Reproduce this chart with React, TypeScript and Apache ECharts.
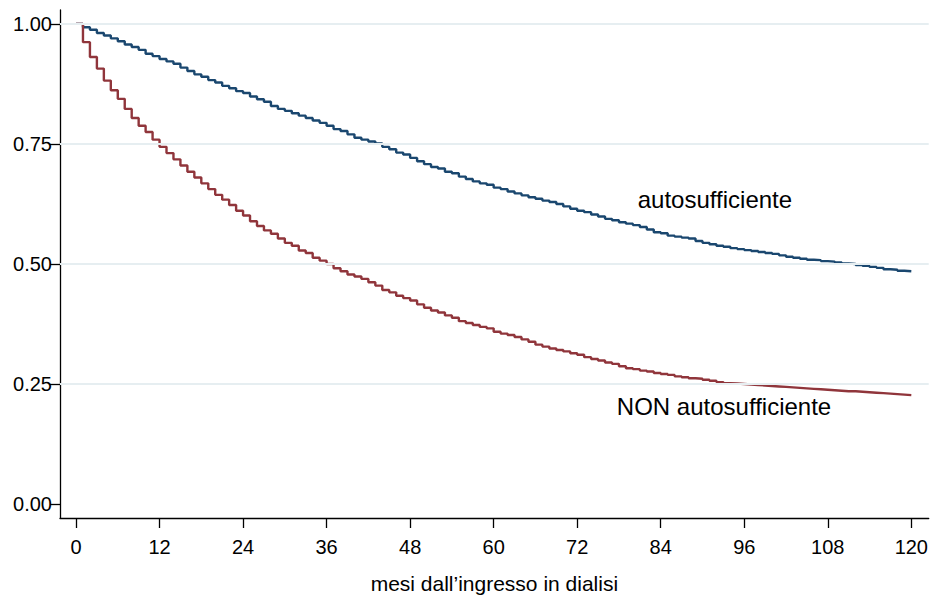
import React, { useEffect, useRef } from "react";
import * as echarts from "echarts";

const months: number[] = Array.from({ length: 121 }, (_, i) => i);

const autosufficiente: number[] = [
  1.000, 0.993, 0.988, 0.981, 0.976, 0.970, 0.964, 0.957, 0.952, 0.946,
  0.938, 0.933, 0.927, 0.922, 0.917, 0.909, 0.902, 0.895, 0.890, 0.883,
  0.878, 0.871, 0.866, 0.860, 0.856, 0.849, 0.843, 0.838, 0.829, 0.823,
  0.819, 0.814, 0.809, 0.804, 0.799, 0.794, 0.788, 0.781, 0.777, 0.770,
  0.763, 0.759, 0.755, 0.751, 0.744, 0.739, 0.732, 0.728, 0.721, 0.714,
  0.708, 0.702, 0.699, 0.692, 0.689, 0.682, 0.677, 0.672, 0.668, 0.665,
  0.659, 0.656, 0.651, 0.647, 0.643, 0.639, 0.636, 0.632, 0.629, 0.625,
  0.620, 0.615, 0.611, 0.608, 0.603, 0.599, 0.594, 0.591, 0.587, 0.584,
  0.581, 0.577, 0.572, 0.566, 0.564, 0.559, 0.557, 0.555, 0.553, 0.548,
  0.544, 0.541, 0.538, 0.536, 0.533, 0.531, 0.529, 0.527, 0.525, 0.523,
  0.521, 0.518, 0.515, 0.513, 0.511, 0.509, 0.508, 0.506, 0.505, 0.503,
  0.501, 0.500, 0.498, 0.496, 0.494, 0.492, 0.489, 0.488, 0.486, 0.485,
  0.484,
];

const nonAutosufficiente: number[] = [
  1.000, 0.962, 0.931, 0.907, 0.882, 0.862, 0.844, 0.823, 0.804, 0.788,
  0.775, 0.759, 0.744, 0.731, 0.718, 0.705, 0.692, 0.680, 0.668, 0.656,
  0.644, 0.634, 0.623, 0.611, 0.601, 0.589, 0.579, 0.570, 0.563, 0.553,
  0.544, 0.538, 0.528, 0.523, 0.513, 0.507, 0.500, 0.491, 0.485, 0.478,
  0.474, 0.469, 0.462, 0.455, 0.446, 0.441, 0.434, 0.429, 0.424, 0.416,
  0.409, 0.403, 0.399, 0.393, 0.388, 0.381, 0.377, 0.373, 0.369, 0.366,
  0.359, 0.355, 0.352, 0.348, 0.343, 0.338, 0.332, 0.328, 0.324, 0.321,
  0.318, 0.314, 0.311, 0.306, 0.302, 0.299, 0.295, 0.292, 0.287, 0.283,
  0.281, 0.278, 0.276, 0.273, 0.271, 0.269, 0.266, 0.264, 0.262, 0.261,
  0.259, 0.257, 0.254, 0.252, 0.251, 0.250, 0.249, 0.248, 0.247, 0.246,
  0.245, 0.244, 0.243, 0.242, 0.241, 0.240, 0.239, 0.238, 0.237, 0.236,
  0.235, 0.235, 0.234, 0.233, 0.232, 0.231, 0.230, 0.229, 0.228, 0.227,
  0.226,
];

const xTicks: number[] = [0, 12, 24, 36, 48, 60, 72, 84, 96, 108, 120];
const yTicks: number[] = [0, 0.25, 0.5, 0.75, 1];
const gridValues: number[] = [0.25, 0.5, 0.75, 1];

const xTitle = "mesi dall\u2019ingresso in dialisi";
const labelAuto = "autosufficiente";
const labelNon = "NON autosufficiente";

const FONT = "'Liberation Sans', Arial, Helvetica, sans-serif";
const BLUE = "#1a476f";
const RED = "#90353b";

export default function App() {
  const ref = useRef<HTMLDivElement>(null);

  useEffect(() => {
    if (!ref.current) return;
    document.body.style.margin = "0";
    document.body.style.overflow = "hidden";
    const chart = echarts.init(ref.current, undefined, { renderer: "svg" });

    const pairs = (vals: number[]) => months.map((m, i) => [m, vals[i]]);

    const option: any = {
      animation: false,
      backgroundColor: "#ffffff",
      textStyle: { fontFamily: FONT },
      grid: { left: 60, right: 2, top: 10, bottom: 76, containLabel: false },
      xAxis: {
        type: "value",
        min: -2.3,
        max: 122.5,
        name: xTitle,
        nameLocation: "middle",
        nameGap: 55,
        nameTextStyle: { fontFamily: FONT, fontSize: 21, color: "#000", lineHeight: 21 },
        axisLine: { show: true, onZero: false, lineStyle: { color: "#000", width: 1.3 } },
        axisTick: { show: true, length: 10, customValues: xTicks, lineStyle: { color: "#000", width: 1.3 } },
        axisLabel: {
          show: true,
          customValues: xTicks,
          margin: 19,
          fontFamily: FONT,
          fontSize: 20,
          color: "#000",
        },
        splitLine: { show: false },
      },
      yAxis: {
        type: "value",
        min: -0.029,
        max: 1.029,
        axisLine: { show: true, onZero: false, lineStyle: { color: "#000", width: 1.3 } },
        axisTick: { show: true, length: 10, customValues: yTicks, lineStyle: { color: "#000", width: 1.3 } },
        axisLabel: {
          show: true,
          customValues: yTicks,
          margin: 8,
          fontFamily: FONT,
          fontSize: 20,
          color: "#000",
          formatter: (v: number) => v.toFixed(2),
        },
        splitLine: { show: false },
      },
      series: [
        {
          type: "line",
          data: [],
          z: 1,
          silent: true,
          markLine: {
            silent: true,
            symbol: "none",
            label: { show: false },
            lineStyle: { color: "#e6eef1", width: 2, type: "solid" },
            data: gridValues.map((v) => ({ yAxis: v })),
          },
        },
        {
          name: labelAuto,
          type: "line",
          step: "end",
          data: pairs(autosufficiente),
          showSymbol: false,
          z: 3,
          lineStyle: { color: BLUE, width: 2.4 },
          itemStyle: { color: BLUE },
          markPoint: {
            silent: true,
            symbol: "circle",
            symbolSize: 0,
            data: [
              {
                coord: [80.7, 0.635],
                label: {
                  show: true,
                  formatter: labelAuto,
                  position: "right",
                  distance: 0,
                  fontFamily: FONT,
                  fontSize: 24,
                  color: "#000",
                },
              },
            ],
          },
        },
        {
          name: labelNon,
          type: "line",
          step: "end",
          data: pairs(nonAutosufficiente),
          showSymbol: false,
          z: 3,
          lineStyle: { color: RED, width: 2.4 },
          itemStyle: { color: RED },
          markPoint: {
            silent: true,
            symbol: "circle",
            symbolSize: 0,
            data: [
              {
                coord: [77.7, 0.204],
                label: {
                  show: true,
                  formatter: labelNon,
                  position: "right",
                  distance: 0,
                  fontFamily: FONT,
                  fontSize: 24,
                  color: "#000",
                },
              },
            ],
          },
        },
      ],
    };

    chart.setOption(option);
    return () => {
      chart.dispose();
    };
  }, []);

  return (
    <div
      ref={ref}
      style={{
        position: "absolute",
        left: 0,
        top: 0,
        width: 931,
        height: 599,
        overflow: "hidden",
        background: "#fff",
      }}
    />
  );
}
